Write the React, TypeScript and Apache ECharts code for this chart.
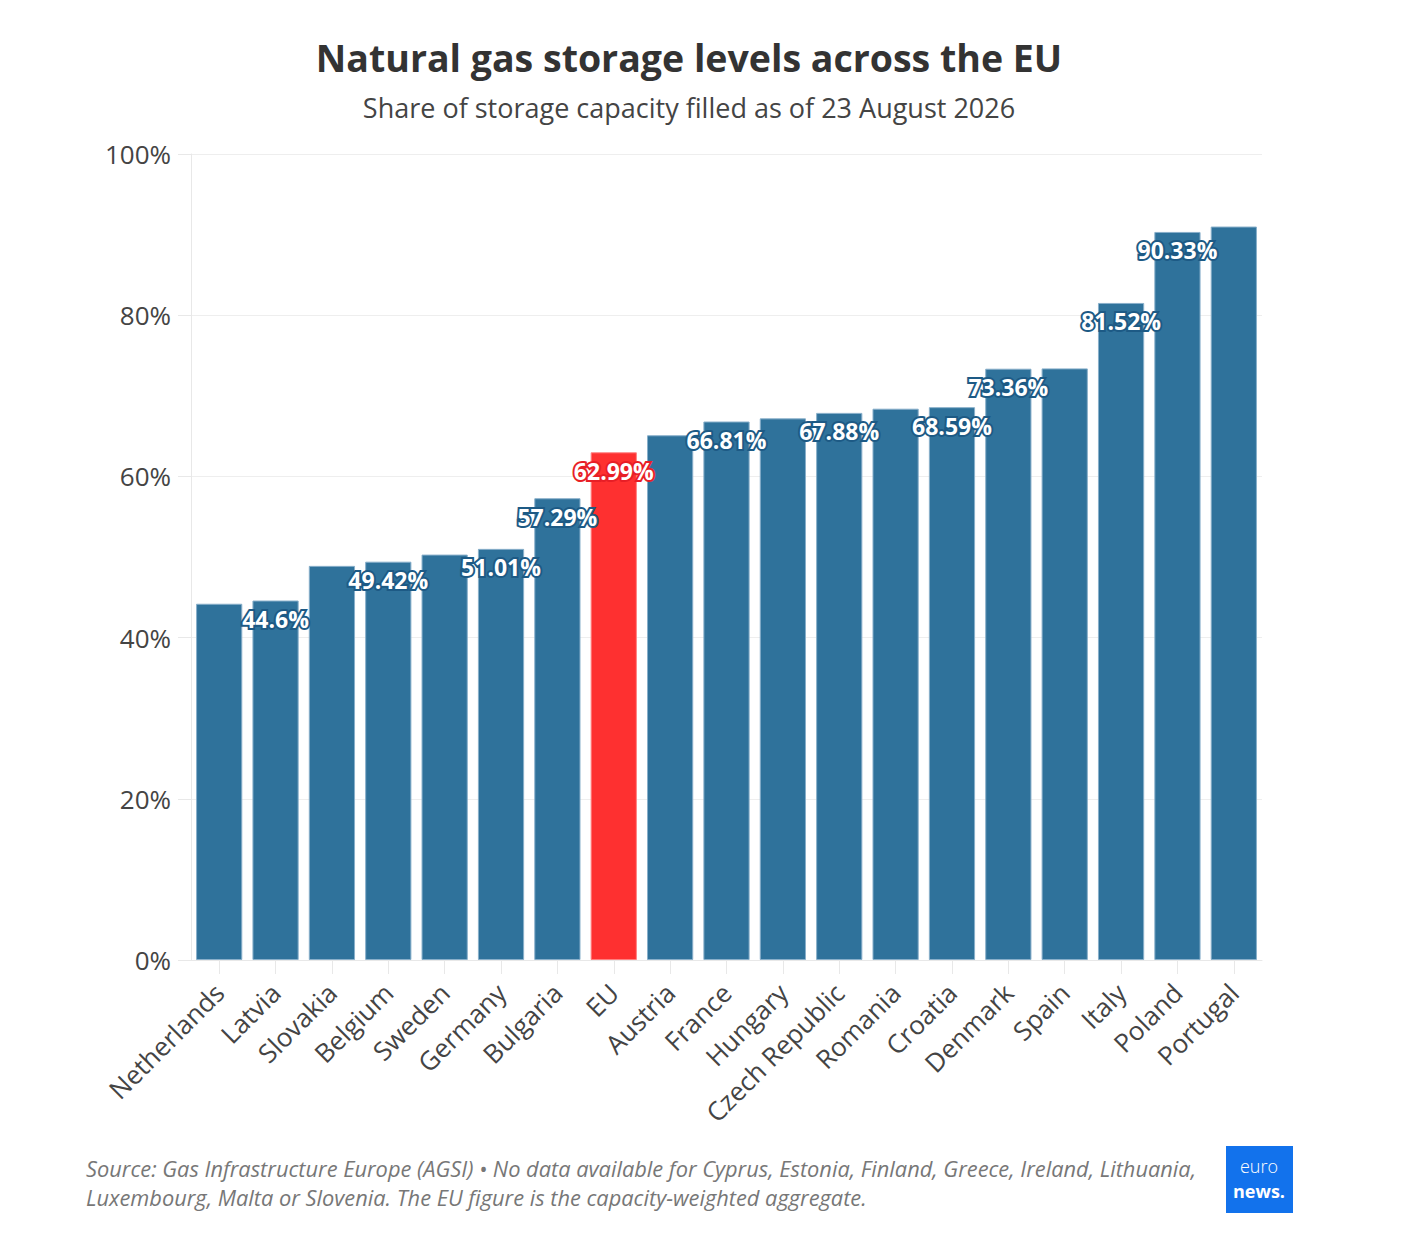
import React, { useEffect, useRef } from "react";
import * as echarts from "echarts";

const categories = [
  "Netherlands", "Latvia", "Slovakia", "Belgium", "Sweden", "Germany", "Bulgaria", "EU",
  "Austria", "France", "Hungary", "Czech Republic", "Romania", "Croatia", "Denmark",
  "Spain", "Italy", "Poland", "Portugal",
];
const values = [
  44.2, 44.6, 48.9, 49.42, 50.3, 51.01, 57.29, 62.99,
  65.1, 66.81, 67.2, 67.88, 68.4, 68.59, 73.36,
  73.4, 81.52, 90.33, 91.0,
];
const labelShown = [
  false, true, false, true, false, true, true, true,
  false, true, false, true, false, true, true,
  false, true, true, false,
];
const highlighted = "EU";
const yTicks = [0, 20, 40, 60, 80, 100];

const titleText = "Natural gas storage levels across the EU";
const subtitleText = "Share of storage capacity filled as of 23 August 2026";
const footerLines = [
  "Source: Gas Infrastructure Europe (AGSI) • No data available for Cyprus, Estonia, Finland, Greece, Ireland, Lithuania,",
  "Luxembourg, Malta or Slovenia. The EU figure is the capacity-weighted aggregate.",
];

const FONT = "'Open Sans', 'Noto Sans', sans-serif";
const BLUE = "#2f729b";
const BLUE_DARK = "#1d5a85";
const RED = "#fe3030";
const RED_DARK = "#e81e26";
const GRID = "#e8e8e8";

export default function App() {
  const ref = useRef<HTMLDivElement>(null);
  useEffect(() => {
    if (!ref.current) return;
    const chart = echarts.init(ref.current, undefined, { renderer: "svg" });
    const data = values.map((v, i) => {
      const isHi = categories[i] === highlighted;
      return {
        value: v,
        itemStyle: {
          color: isHi ? RED : BLUE,
          borderColor: isHi ? "#ff8080" : "#88afca",
          borderWidth: 1,
        },
        label: {
          show: labelShown[i],
          textBorderColor: isHi ? RED_DARK : BLUE_DARK,
        },
      };
    });
    chart.setOption({
      animation: false,
      backgroundColor: "#ffffff",
      textStyle: { fontFamily: FONT },
      grid: { left: 191, right: 158, top: 154, bottom: 278, containLabel: false },
      xAxis: {
        type: "category",
        data: categories,
        boundaryGap: true,
        axisLine: { show: true, lineStyle: { color: GRID, width: 1 } },
        axisTick: { show: true, alignWithLabel: true, length: 14, lineStyle: { color: GRID } },
        axisLabel: {
          rotate: 45,
          interval: 0,
          margin: 28,
          fontSize: 26,
          color: "#444444",
          fontFamily: FONT,
        },
      },
      yAxis: {
        type: "value",
        min: 0,
        max: 100,
        interval: 20,
        axisLine: { show: true, lineStyle: { color: GRID, width: 1 } },
        axisTick: { show: true, length: 13, lineStyle: { color: GRID } },
        splitLine: { show: true, lineStyle: { color: "#eeeeee", width: 1 } },
        axisLabel: {
          margin: 20,
          fontSize: 26,
          color: "#444444",
          fontFamily: FONT,
          formatter: (v: number) => (yTicks.includes(v) ? `${v}%` : ""),
        },
      },
      series: [
        {
          type: "bar",
          data,
          barCategoryGap: "18%",
          label: {
            show: true,
            position: "insideTop",
            distance: 7,
            formatter: (p: any) => `${p.value}%`,
            color: "#ffffff",
            fontSize: 23,
            fontWeight: "bold",
            fontFamily: FONT,
            textBorderWidth: 4,
          },
        },
      ],
      graphic: [
        {
          type: "text",
          x: 689,
          y: 57,
          style: {
            text: titleText,
            fontSize: 37.5,
            fontWeight: "bold",
            fontFamily: FONT,
            fill: "#333333",
            align: "center",
            verticalAlign: "middle",
          },
        },
        {
          type: "text",
          x: 689,
          y: 107,
          style: {
            text: subtitleText,
            fontSize: 27,
            fontFamily: FONT,
            fill: "#444444",
            align: "center",
            verticalAlign: "middle",
          },
        },
        ...footerLines.map((t, i) => ({
          type: "text",
          x: 86,
          y: 1168 + i * 29,
          style: {
            text: t,
            fontSize: 21.8,
            fontStyle: "italic",
            fontFamily: FONT,
            fill: "#777777",
            align: "left",
            verticalAlign: "middle",
          },
        })),
        {
          type: "rect",
          shape: { x: 1226, y: 1146, width: 67, height: 67 },
          style: { fill: "#1272ec" },
        },
        {
          type: "text",
          x: 1259,
          y: 1166,
          style: {
            text: "euro",
            fontSize: 18,
            fontWeight: 300,
            fontFamily: FONT,
            fill: "#ffffff",
            align: "center",
            verticalAlign: "middle",
          },
        },
        {
          type: "text",
          x: 1259,
          y: 1191,
          style: {
            text: "news.",
            fontSize: 18,
            fontWeight: "bold",
            fontFamily: FONT,
            fill: "#ffffff",
            align: "center",
            verticalAlign: "middle",
          },
        },
      ],
    });
    return () => chart.dispose();
  }, []);
  return (
    <div
      ref={ref}
      style={{ position: "fixed", left: 0, top: 0, width: 1420, height: 1238, background: "#fff" }}
    />
  );
}
